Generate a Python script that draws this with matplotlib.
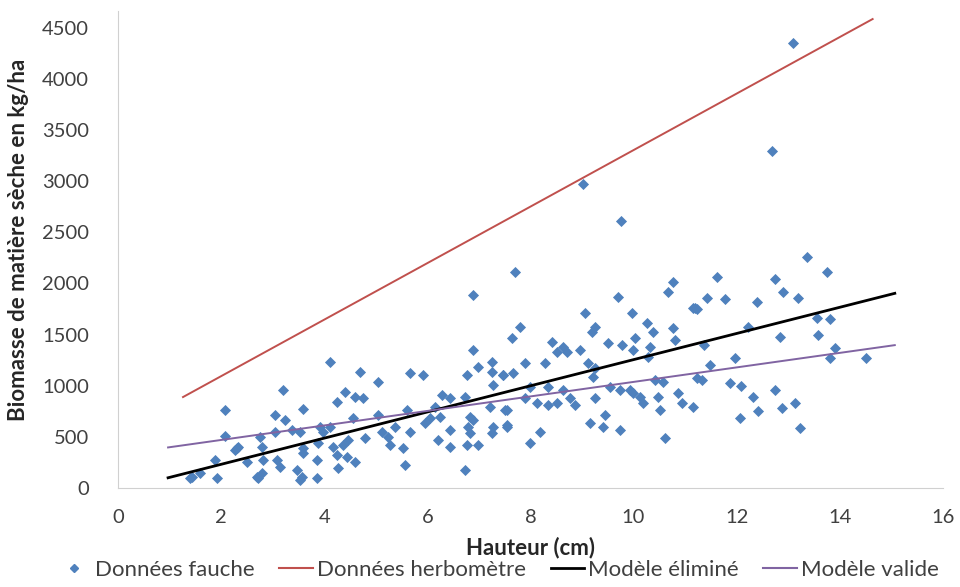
import matplotlib
matplotlib.use("Agg")
import matplotlib.pyplot as plt
from matplotlib.lines import Line2D

plt.rcParams['font.family'] = ['Lato', 'DejaVu Sans']

# Données fauche (hauteur cm, biomasse kg/ha)
fauche_x = [1.40, 1.43, 1.59, 1.88, 1.92, 2.08, 2.08, 2.27, 2.33, 2.31, 2.50, 2.69, 2.72,
            2.75, 2.79, 2.79, 2.81, 3.05, 3.05, 3.08, 3.14, 3.20, 3.24, 3.37, 3.47, 3.53,
            3.53, 3.57, 3.59, 3.59, 3.59, 3.86, 3.86, 3.88, 3.92, 3.98, 4.11, 4.11, 4.17,
            4.25, 4.25, 4.27, 4.36, 4.40, 4.44, 4.46, 4.56, 4.60, 4.60, 4.69, 4.75, 4.79,
            5.04, 5.04, 5.12, 5.24, 5.28, 5.37, 5.53, 5.57, 5.61, 5.66, 5.66, 5.92, 5.95,
            6.05, 6.15, 6.21, 6.25, 6.28, 6.44, 6.44, 6.44, 6.73, 6.73, 6.77, 6.77, 6.79,
            6.83, 6.83, 6.89, 6.89, 6.89, 6.98, 6.98, 7.21, 7.25, 7.25, 7.25, 7.27, 7.27,
            7.47, 7.47, 7.51, 7.54, 7.54, 7.54, 7.64, 7.66, 7.70, 7.80, 7.89, 7.89, 7.99,
            7.99, 8.13, 8.18, 8.28, 8.34, 8.34, 8.42, 8.51, 8.51, 8.63, 8.63, 8.71, 8.77,
            8.86, 8.96, 9.02, 9.06, 9.12, 9.15, 9.19, 9.21, 9.25, 9.25, 9.25, 9.41, 9.45,
            9.50, 9.54, 9.70, 9.74, 9.74, 9.76, 9.77, 9.93, 9.97, 9.99, 9.99, 10.03, 10.12,
            10.18, 10.26, 10.28, 10.32, 10.38, 10.41, 10.47, 10.51, 10.57, 10.61, 10.67,
            10.76, 10.76, 10.80, 10.86, 10.94, 11.15, 11.15, 11.19, 11.23, 11.23, 11.33,
            11.37, 11.42, 11.48, 11.62, 11.77, 11.87, 11.97, 12.06, 12.08, 12.22, 12.32,
            12.39, 12.41, 12.68, 12.74, 12.74, 12.84, 12.88, 12.90, 13.09, 13.13, 13.19,
            13.23, 13.36, 13.56, 13.58, 13.75, 13.81, 13.81, 13.91, 14.51]
fauche_y = [98, 107, 146, 273, 98, 761, 508, 370, 400, 390, 254, 107, 98,
            500, 400, 146, 273, 712, 547, 273, 205, 956, 664, 566, 176, 547,
            78, 107, 771, 342, 390, 273, 98, 440, 595, 547, 1230, 595, 400,
            839, 322, 195, 420, 937, 303, 468, 683, 888, 254, 1132, 878, 488,
            1035, 712, 547, 498, 420, 595, 390, 225, 761, 1122, 547, 1103, 634,
            683, 790, 468, 693, 908, 878, 566, 400, 888, 176, 1103, 420, 595,
            693, 537, 1347, 664, 1884, 1181, 420, 790, 1230, 1132, 537, 1005, 595,
            1103, 1103, 761, 595, 761, 615, 1464, 1122, 2108, 1571, 1220, 878, 986,
            440, 830, 547, 1220, 986, 810, 1425, 1327, 830, 1376, 956, 1327, 878,
            810, 1347, 2977, 1708, 1220, 634, 1523, 1083, 1571, 1171, 878, 595, 712,
            1415, 986, 1864, 956, 566, 2606, 1396, 956, 1708, 1347, 927, 1464, 888,
            830, 1610, 1279, 1376, 1523, 1054, 888, 761, 1035, 488, 1913,
            2010, 1562, 1445, 927, 830, 1757, 790, 1757, 1074, 1747, 1054,
            1396, 1854, 1200, 2059, 1845, 1025, 1269, 683, 996, 1571, 888,
            1815, 751, 3299, 2040, 956, 1474, 781, 1913, 4353, 830, 1854,
            586, 2255, 1659, 1493, 2108, 1650, 1269, 1366, 1269]

# droites (x début / fin, y début / fin)
herbo_x = [1.26, 14.64]
herbo_y = [888, 4587]
elimine_x = [0.97, 15.07]
elimine_y = [98, 1903]
valide_x = [0.97, 15.07]
valide_y = [395, 1396]

fig = plt.figure(figsize=(9.6, 5.87), dpi=100)
ax = fig.add_axes([0.123, 0.169, 0.859, 0.813])

ax.scatter(fauche_x, fauche_y, marker='D', s=32, color='#4F81BD', linewidths=0, zorder=3)
ax.plot(herbo_x, herbo_y, color='#C0504D', lw=1.4, zorder=2)
ax.plot(elimine_x, elimine_y, color='black', lw=2, zorder=4)
ax.plot(valide_x, valide_y, color='#8064A2', lw=1.4, zorder=4)

ax.set_xlim(0, 16)
ax.set_ylim(0, 4670)
ax.set_xticks(range(0, 17, 2))
ax.set_yticks(range(0, 4501, 500))
ax.tick_params(length=0, labelsize=14.5, colors='#404040')
ax.tick_params(axis='x', pad=15)
ax.tick_params(axis='y', pad=21)
for s in ['top', 'right']:
    ax.spines[s].set_visible(False)
for s in ['left', 'bottom']:
    ax.spines[s].set_color('#D0D0D0')

ax.set_xlabel('Hauteur (cm)', fontsize=16, fontweight='bold', color='#262626', va='center')
ax.xaxis.set_label_coords(0.5, -0.126)
ax.set_ylabel('Biomasse de matière sèche en kg/ha', fontsize=16, fontweight='bold',
              color='#262626', va='center')
ax.yaxis.set_label_coords(-0.121, 0.52)

handles = [
    Line2D([], [], marker='D', color='#4F81BD', ls='none', markersize=4),
    Line2D([], [], color='#C0504D', lw=1.5),
    Line2D([], [], color='black', lw=2),
    Line2D([], [], color='#8064A2', lw=1.5),
]
labels = ['Données fauche', 'Données herbomètre', 'Modèle éliminé', 'Modèle valide']
fig.legend(handles, labels, loc='center', bbox_to_anchor=(0.519, 0.029), ncol=4,
           frameon=False, fontsize=16, handlelength=1.5, handletextpad=0.2,
           columnspacing=1.1, labelcolor='#404040', borderpad=0)

fig.savefig('out.png', dpi=100)
